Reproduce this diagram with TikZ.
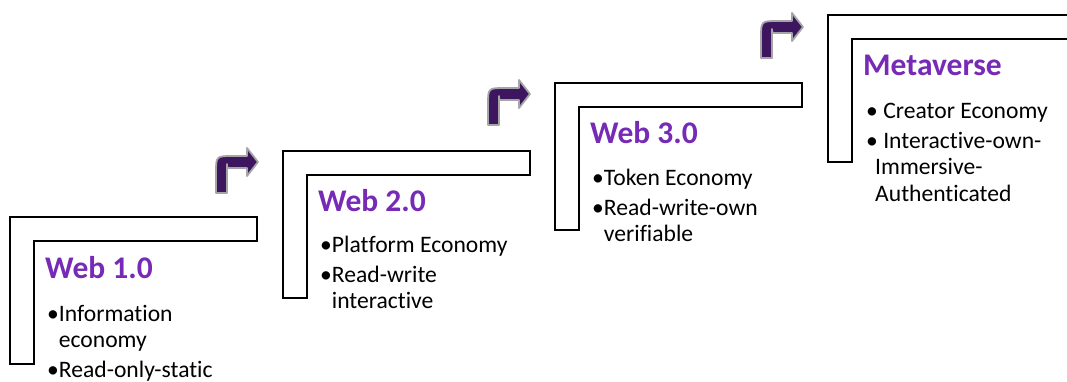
\documentclass[tikz,border=0pt]{standalone}
\usepackage{fontspec}
\setmainfont{Carlito}[Ligatures=NoCommon]
\definecolor{titlepurple}{RGB}{118,42,182}
\definecolor{arrowfill}{RGB}{62,22,96}
\definecolor{arrowedge}{RGB}{165,165,165}
\tikzset{
  stair/.style={draw=black, line width=2.6pt, fill=white, line join=miter},
  turnarrow/.style={fill=arrowfill, draw=arrowedge, line width=1.8pt, line join=round},
  steptitle/.style={anchor=base west, inner sep=0pt, text=titlepurple,
    font=\fontsize{31.5}{36}\selectfont\bfseries},
  stepitem/.style={anchor=base west, inner sep=0pt,
    font=\fontsize{23.6}{26.5}\selectfont},
  stairstep/.pic={
    \draw[stair] (0,0) -- (247,0) -- (247,24) -- (24,24) -- (24,147) -- (0,147) -- cycle;
  },
  bentarrow/.pic={
    \draw[turnarrow] (0,0) -- (0,-20) .. controls (0,-37) .. (17,-37) -- (31,-37)
      -- (31,-45) -- (42,-31) -- (31,-17) -- (31,-25) -- (15,-25)
      .. controls (11,-25) .. (11,-29) -- (11,0) -- cycle;
  },
}
\begin{document}
\begin{tikzpicture}[x=1pt,y=-1pt]
  \clip (0,0) rectangle (1067,381);
  \fill[white] (0,0) rectangle (1067,381);

  % stair outlines
  \pic at (10,217) {stairstep};
  \pic at (283,151) {stairstep};
  \pic at (555,83) {stairstep};
  \draw[stair] (828,15) -- (1080,15) -- (1080,39) -- (852,39) -- (852,162) -- (828,162) -- cycle;

  % turning arrows between steps
  \pic at (216,193) {bentarrow};
  \pic at (488,125) {bentarrow};
  \pic at (761,58) {bentarrow};

  % Web 1.0
  \node[steptitle] (t1) at (45,278) {Web 1.0};
  \node[stepitem] (a1) at (47,321) {\textbullet Information};
  \node[stepitem] (a1c) at (a1.base west) [xshift=11.7pt, yshift=-26.5pt] {economy};
  \node[stepitem] (b1) at (47,377) {\textbullet Read-only-static};

  % Web 2.0
  \node[steptitle] (t2) at (318,211) {Web 2.0};
  \node[stepitem] (a2) at (320,252) {\textbullet Platform Economy};
  \node[stepitem] (b2) at (320,282) {\textbullet Read-write};
  \node[stepitem] (b2c) at (b2.base west) [xshift=11.7pt, yshift=-26.5pt] {interactive};

  % Web 3.0
  \node[steptitle] (t3) at (590,143) {Web 3.0};
  \node[stepitem] (a3) at (592,185) {\textbullet Token Economy};
  \node[stepitem] (b3) at (592,215) {\textbullet Read-write-own};
  \node[stepitem] (b3c) at (b3.base west) [xshift=11.7pt, yshift=-26.5pt] {verifiable};

  % Metaverse
  \node[steptitle] (t4) at (863,75) {Metaverse};
  \node[stepitem] (a4) at (866,118) {\textbullet\ Creator Economy};
  \node[stepitem] (b4) at (866,148) {\textbullet\ Interactive-own-};
  \node[stepitem] (b4c) at (b4.base west) [xshift=9pt, yshift=-26.5pt] {Immersive-};
  \node[stepitem] (b4d) at (b4c.base west) [yshift=-26.5pt] {Authenticated};
\end{tikzpicture}
\end{document}
